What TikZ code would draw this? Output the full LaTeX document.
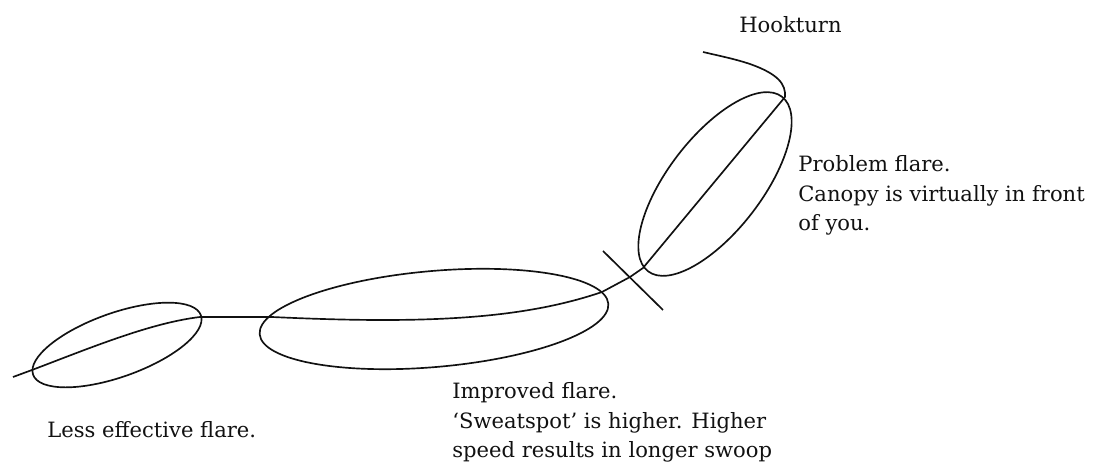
\documentclass[tikz,border=0pt]{standalone}
\usepackage{fontspec}
\setmainfont{DejaVu Serif}
\usetikzlibrary{positioning, calc}
\definecolor{Ink}{HTML}{111111}
\tikzset{
    flightline/.style={line width=0.95pt, color=Ink, line join=round},
    flareloop/.style={line width=0.95pt, color=Ink},
    labeltext/.style={anchor=base west, align=left, inner sep=0pt, text=Ink, font=\fontsize{12}{17}\selectfont},
}

\begin{document}
\begin{tikzpicture}[x=0.02cm, y=0.02cm]
    \useasboundingbox (0,0) rectangle (1093,466);

    % Punti della traiettoria
    \coordinate (Start) at (13,89);
    \coordinate (SmallIn) at (32,96);
    \coordinate (SmallOut) at (200,149);
    \coordinate (BigIn) at (272,149);
    \coordinate (BigOut) at (602,174);
    \coordinate (Cross) at (630,189);
    \coordinate (TopIn) at (643,198);
    \coordinate (TopOut) at (785,369);
    \coordinate (HookEnd) at (703,414);

    % Centri delle ellissi
    \coordinate (SmallC) at (117,121);
    \coordinate (BigC) at (434,147);
    \coordinate (TopC) at (715,282);

    % Traiettoria (dal basso a sinistra fino al hookturn)
    \draw[flightline] (Start) -- (SmallIn)
        .. controls (90,118) and (150,143) .. (SmallOut) -- (BigIn)
        .. controls (420,142) and (520,146) .. (BigOut)
        -- (Cross) -- (TopIn) -- (TopOut)
        .. controls (786,382) and (778,392) .. (750,402)
        .. controls (735,407) and (720,410) .. (HookEnd);

    % Tre flare
    \draw[flareloop, rotate around={19.5:(SmallC)}] (SmallC) ellipse (89 and 32);
    \draw[flareloop, rotate around={5:(BigC)}] (BigC) ellipse (175 and 48);
    \draw[flareloop, rotate around={52.5:(TopC)}] (TopC) ellipse (110 and 47);

    % Segno sul punto di inizio
    \coordinate (TickA) at (603,215);
    \coordinate (TickB) at (663,156);
    \draw[flightline] (TickA) -- (TickB);

    % Etichette
    \node[labeltext] (hookturn) at (739,433) {Hookturn};
    \node[labeltext] (problem) at (798,235) {Problem flare.\\Canopy is virtually in front\\of you.};
    \node[labeltext] (improved) at (452,8) {Improved flare.\\‘Sweatspot’ is higher. Higher\\speed results in longer swoop};
    \node[labeltext] (lesseff) at (47,28) {Less effective flare.};
\end{tikzpicture}
\end{document}
